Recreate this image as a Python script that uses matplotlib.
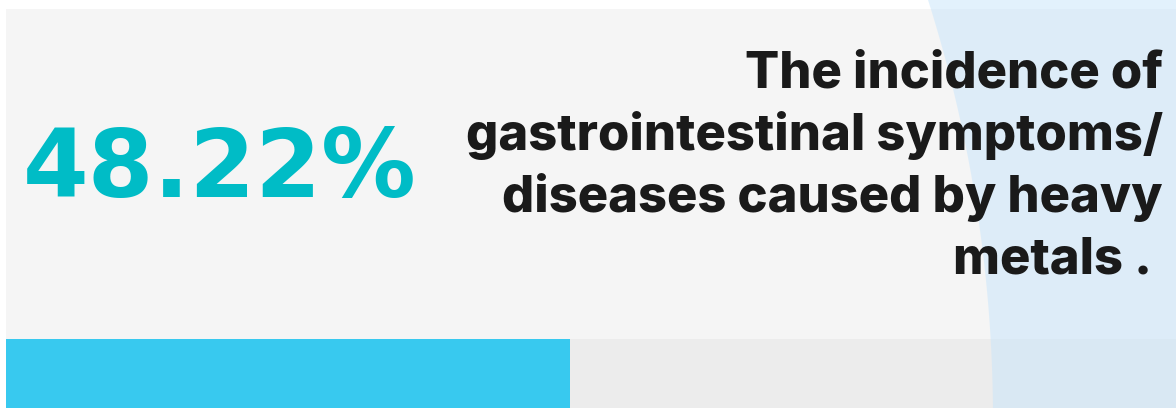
import matplotlib
matplotlib.use('Agg')
import matplotlib.pyplot as plt
from matplotlib.patches import Rectangle, Polygon
import numpy as np

# values
value = 48.22
value_label = '48.22%'
caption_lines = ['The incidence of',
                 'gastrointestinal symptoms/',
                 'diseases caused by heavy',
                 'metals . ']

W, H = 1176, 408
fig = plt.figure(figsize=(W/100, H/100), dpi=100)
fig.patch.set_facecolor('white')
ax = fig.add_axes([0, 0, 1, 1])
ax.set_xlim(0, W)
ax.set_ylim(H, 0)
ax.axis('off')

# card background
ax.add_patch(Rectangle((6, 9), W-6, 330, color='#f5f5f5', lw=0, zorder=1))
# progress track + fill
ax.add_patch(Rectangle((6, 339), W-6, H-339, color='#ececec', lw=0, zorder=1))
ax.add_patch(Rectangle((6, 339), (W-6)*value/100, H-339, color='#38c9ef', lw=0, zorder=2))

# soft blue decoration on the right (edge of a big circle)
R, cx, cy = 1390, 993-1390, 420
yy = np.linspace(0, H, 200)
xx = cx + np.sqrt(R**2 - (yy-cy)**2)
pts = np.vstack([np.column_stack([xx, yy]), [[W, H], [W, 0]]])
ax.add_patch(Polygon(pts, closed=True, facecolor='#c7e5fb', alpha=0.5, lw=0, zorder=3))

# big number
ax.text(23, 197, value_label, fontsize=68, fontweight='bold', family='DejaVu Sans',
        color='#00bcc6', ha='left', va='baseline', zorder=5)

# caption
for i, line in enumerate(caption_lines):
    ax.text(1163, 88 + 62*i, line, fontsize=36.5, fontweight=800, family=['Inter', 'DejaVu Sans'],
            color='#1a1a1a', ha='right', va='baseline', zorder=5)

fig.savefig('out.png', dpi=100, facecolor='white')
